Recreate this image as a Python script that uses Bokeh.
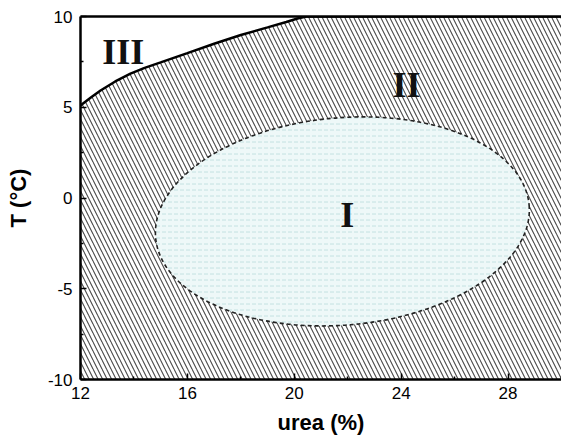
from bokeh.plotting import figure
from bokeh.models import LinearAxis, FixedTicker, Range1d, ColumnDataSource, PrintfTickFormatter
from bokeh.core.properties import value
from bokeh.embed import file_html
from bokeh.resources import INLINE
import math

# ---- data ----
urea_range = [12, 30]
T_range = [-10, 10]
x_ticks = [12, 16, 20, 24, 28]
x_minor_ticks = [14, 18, 22, 26, 30]
y_ticks = [-10, -5, 0, 5, 10]
y_minor_ticks = [-7.5, -2.5, 2.5, 7.5]

# boundary between region III (above) and region II (below)
boundary_urea = [12, 12.4, 12.75, 13.3, 13.87, 14.4, 15.0, 16.0, 17.0, 18.0, 19.0, 19.7, 20.12, 20.45, 30]
boundary_T = [5.1, 5.55, 5.92, 6.42, 6.85, 7.17, 7.47, 7.98, 8.5, 8.98, 9.4, 9.7, 9.89, 10, 10]

# region I ellipse: centre, full width (urea %), full height (deg C), tilt (deg)
ellipse_urea = [21.8]
ellipse_T = [-1.29]
ellipse_width = [14.03]
ellipse_height = [11.42]
ellipse_angle_deg = [5]

region_names = ["I", "II", "III"]
region_urea = [21.98, 24.2, 13.6]
region_T = [-0.96, 6.2, 8.07]

p = figure(width=561, height=441,
           x_range=Range1d(*urea_range), y_range=Range1d(*T_range),
           output_backend="svg", toolbar_location=None,
           min_border_left=80, min_border_right=0,
           min_border_top=16, min_border_bottom=62)
p.xgrid.visible = False
p.ygrid.visible = False
p.outline_line_color = None
p.background_fill_color = "white"
p.border_fill_color = "white"

# region II: hatched area below the boundary
p.varea(x=boundary_urea, y1=T_range[0], y2=boundary_T,
        fill_color="white", hatch_pattern="\\", hatch_color="#4a4a4a",
        hatch_scale=9, hatch_weight=1.1)

# region I ellipse
es = ColumnDataSource(dict(x=ellipse_urea, y=ellipse_T, w=ellipse_width, h=ellipse_height,
                           a=[math.radians(a) for a in ellipse_angle_deg]))
p.ellipse(x="x", y="y", width="w", height="h", angle="a", source=es,
          fill_color="#eef8f8", hatch_pattern="horizontal_dash", hatch_color="#a6d2d2",
          hatch_scale=6, hatch_weight=1, hatch_alpha=0.6,
          line_color="#222222", line_width=1.6, line_dash="4 3")

# boundary line
p.line(boundary_urea, boundary_T, line_color="black", line_width=2.5)

# region labels
p.text(x=region_urea, y=region_T, text=region_names,
       text_font=value("Liberation Serif"), text_font_style="bold",
       text_font_size="36px", text_align="center", text_baseline="middle",
       text_color="#111111")

p.xaxis.ticker = FixedTicker(ticks=x_ticks, minor_ticks=x_minor_ticks)
p.yaxis.ticker = FixedTicker(ticks=y_ticks, minor_ticks=y_minor_ticks)
p.xaxis.formatter = PrintfTickFormatter(format="%d")
p.yaxis.formatter = PrintfTickFormatter(format="%d")
p.xaxis.axis_label = "urea (%)"
p.yaxis.axis_label = "T (°C)"

for ax in (p.xaxis[0], p.yaxis[0]):
    ax.axis_line_width = 2.5
    ax.axis_line_color = "black"
    ax.major_tick_in = 6
    ax.major_tick_out = 0
    ax.minor_tick_in = 3
    ax.minor_tick_out = 0
    ax.major_tick_line_width = 1.5
    ax.minor_tick_line_width = 1.5
    ax.major_tick_line_color = "black"
    ax.minor_tick_line_color = "black"
    ax.major_label_text_font = "Liberation Sans"
    ax.major_label_text_font_size = "17px"
    ax.major_label_text_color = "black"
    ax.axis_label_text_font = "Liberation Sans"
    ax.axis_label_text_font_style = "bold"
    ax.axis_label_text_font_size = "22px"
    ax.axis_label_text_color = "black"

p.xaxis.major_label_standoff = 7
p.xaxis.axis_label_standoff = 8
p.yaxis.major_label_standoff = 8
p.yaxis.axis_label_standoff = 14

top = LinearAxis(ticker=FixedTicker(ticks=[]), major_label_text_font_size="0px",
                 major_tick_in=0, major_tick_out=0, minor_tick_in=0, minor_tick_out=0,
                 axis_line_width=2.5, axis_line_color="black")
p.add_layout(top, "above")

open("out.html", "w").write(file_html(p, INLINE))
